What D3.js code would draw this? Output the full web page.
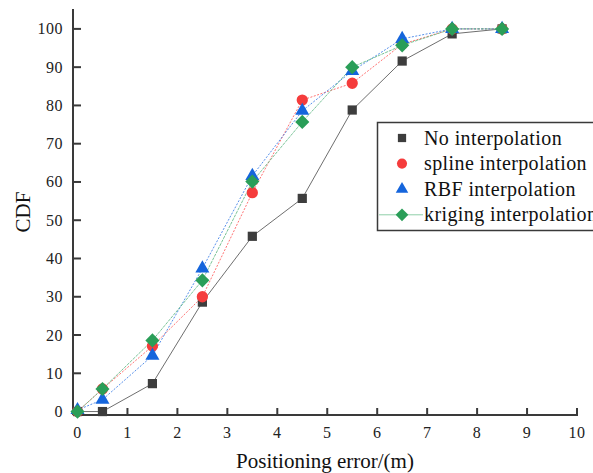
<!DOCTYPE html>
<html lang="en">
<head>
  <meta charset="UTF-8">
  <title>CDF of positioning error</title>
  <script src="https://d3js.org/d3.v7.min.js"></script>
  <style>
    body { margin: 0; background: #fff; }
    svg { display: block; font-family: "Liberation Serif", "Times New Roman", serif; }
  </style>
</head>
<body>
  <svg width="593" height="473"></svg>

  <script>
    const xTicks = [0, 1, 2, 3, 4, 5, 6, 7, 8, 9, 10];
    const yTicks = [0, 10, 20, 30, 40, 50, 60, 70, 80, 90, 100];
    const errors = [0, 0.5, 1.5, 2.5, 3.5, 4.5, 5.5, 6.5, 7.5, 8.5];

    const noInterp = [0, 0, 7.3, 28.6, 45.8, 55.7, 78.8, 91.6, 98.7, 100];
    const spline = [0, 5.9, 17.1, 30.0, 57.2, 81.4, 85.8, 96.0, 100, 100];
    const rbf = [0.4, 3.1, 14.6, 37.4, 61.6, 78.6, 89.0, 97.4, 100, 100];
    const kriging = [0, 5.9, 18.6, 34.3, 60.1, 75.7, 90.0, 95.7, 100, 100];

    const seriesNames = ["No interpolation", "spline interpolation", "RBF interpolation", "kriging interpolation"];

    // rotated square for the diamond marker
    const squareDiamond = {
      draw(context, size) {
        const r = Math.sqrt(size / 2);
        context.moveTo(0, -r);
        context.lineTo(r, 0);
        context.lineTo(0, r);
        context.lineTo(-r, 0);
        context.closePath();
      }
    };

    const series = [
      { name: seriesNames[0], values: noInterp, color: "#3d3d3d", line: "#555", dash: null, symbol: d3.symbolSquare, size: 85 },
      { name: seriesNames[1], values: spline, color: "#f53c3c", line: "#ff5a5a", dash: "2,1.5", symbol: d3.symbolCircle, size: 100 },
      { name: seriesNames[2], values: rbf, color: "#1565dc", line: "#3a7de6", dash: "2,1.5", symbol: d3.symbolTriangle, size: 85 },
      { name: seriesNames[3], values: kriging, color: "#2a9e58", line: "#62b985", dash: "3,1", symbol: squareDiamond, size: 100 }
    ];

    const svg = d3.select("svg");

    const x = d3.scaleLinear().domain([-0.09, 10]).range([73, 577]);
    const y = d3.scaleLinear().domain([-0.9, 105.2]).range([415, 9]);

    // axes
    const axisColor = "#3a3a3a";
    svg.append("line")
      .attr("x1", x(-0.09)).attr("x2", x(-0.09))
      .attr("y1", y(105.2)).attr("y2", y(-0.9))
      .attr("stroke", axisColor).attr("stroke-width", 2);
    svg.append("line")
      .attr("x1", x(-0.09)).attr("x2", x(10) + 1)
      .attr("y1", y(-0.9)).attr("y2", y(-0.9))
      .attr("stroke", axisColor).attr("stroke-width", 2);

    const yAxis = svg.append("g");
    yAxis.selectAll("line")
      .data(yTicks)
      .join("line")
      .attr("x1", x(-0.09)).attr("x2", x(-0.09) + 8)
      .attr("y1", d => y(d)).attr("y2", d => y(d))
      .attr("stroke", axisColor).attr("stroke-width", 2);
    yAxis.selectAll("text")
      .data(yTicks)
      .join("text")
      .attr("x", 63)
      .attr("y", d => y(d) + 5.5)
      .attr("text-anchor", "end")
      .attr("font-size", 16)
      .attr("letter-spacing", 0.5)
      .attr("fill", "#222")
      .text(d => d);

    const xAxis = svg.append("g");
    xAxis.selectAll("line")
      .data(xTicks.filter(d => d > 0))
      .join("line")
      .attr("x1", d => x(d)).attr("x2", d => x(d))
      .attr("y1", y(-0.9)).attr("y2", y(-0.9) - 7)
      .attr("stroke", axisColor).attr("stroke-width", 2);
    xAxis.selectAll("text")
      .data(xTicks)
      .join("text")
      .attr("x", d => x(d))
      .attr("y", 438)
      .attr("text-anchor", "middle")
      .attr("font-size", 16)
      .attr("letter-spacing", 0.5)
      .attr("fill", "#222")
      .text(d => d);

    svg.append("text")
      .attr("x", 325)
      .attr("y", 468)
      .attr("text-anchor", "middle")
      .attr("font-size", 21)
      .attr("fill", "#111")
      .text("Positioning error/(m)");

    svg.append("text")
      .attr("transform", "translate(30,212) rotate(-90)")
      .attr("text-anchor", "middle")
      .attr("font-size", 21)
      .attr("fill", "#111")
      .text("CDF");

    // series
    const line = d3.line().x((d, i) => x(errors[i])).y(d => y(d));

    series.forEach(s => {
      svg.append("path")
        .datum(s.values)
        .attr("d", line)
        .attr("fill", "none")
        .attr("stroke", s.line)
        .attr("stroke-width", 1)
        .attr("stroke-dasharray", s.dash)
        .attr("opacity", 0.85);
    });

    series.forEach(s => {
      svg.append("g")
        .selectAll("path")
        .data(s.values)
        .join("path")
        .attr("transform", (d, i) => `translate(${x(errors[i])},${y(d)})`)
        .attr("d", d3.symbol().type(s.symbol).size(s.size))
        .attr("fill", s.color);
    });

    // legend
    const legend = svg.append("g");
    legend.append("rect")
      .attr("x", 377.5).attr("y", 122.5)
      .attr("width", 230).attr("height", 108)
      .attr("fill", "#fff")
      .attr("stroke", "#3a3a3a").attr("stroke-width", 1.5);

    series.forEach((s, i) => {
      const ly = 138 + i * 25.6;
      if (i === 3) {
        legend.append("line")
          .attr("x1", 379).attr("x2", 423)
          .attr("y1", ly).attr("y2", ly)
          .attr("stroke", "#8fcfa8").attr("stroke-width", 1);
      }
      legend.append("path")
        .attr("transform", `translate(402,${ly})`)
        .attr("d", d3.symbol().type(s.symbol).size(s.size * 0.8))
        .attr("fill", s.color);
      legend.append("text")
        .attr("x", 424)
        .attr("y", ly + 6.5)
        .attr("font-size", 20)
        .attr("letter-spacing", 0.4)
        .attr("fill", "#111")
        .text(s.name);
    });
  </script>
</body>
</html>
